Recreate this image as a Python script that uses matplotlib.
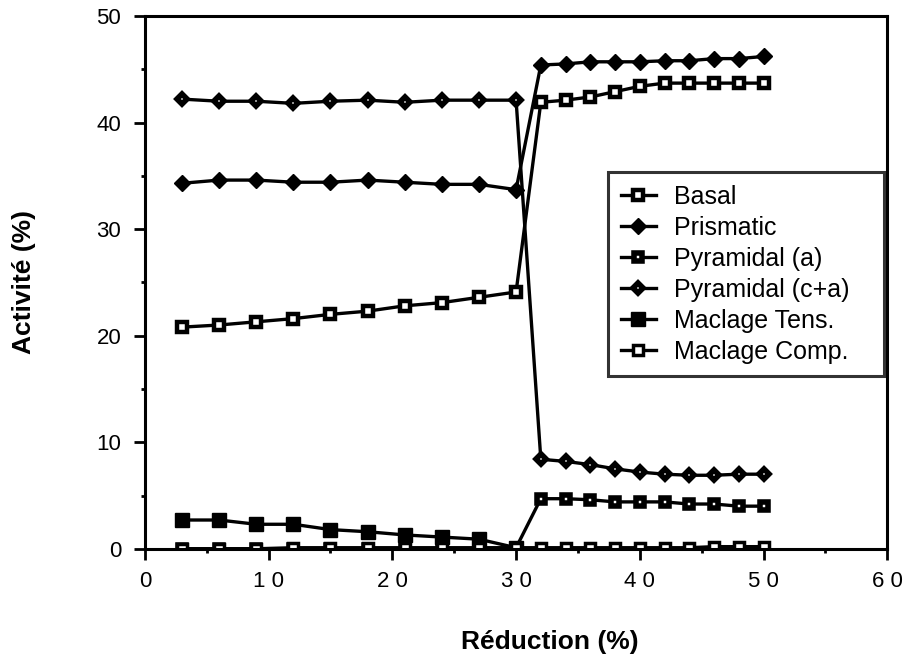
import matplotlib
matplotlib.use("Agg")
import matplotlib.pyplot as plt
import numpy as np

plt.rcParams['font.family'] = ['Liberation Sans', 'DejaVu Sans']

# Reduction (%) values
reduction = [3, 6, 9, 12, 15, 18, 21, 24, 27, 30,
             32, 34, 36, 38, 40, 42, 44, 46, 48, 50]

basal = [20.8, 21.0, 21.3, 21.6, 22.0, 22.3, 22.8, 23.1, 23.6, 24.1,
         41.9, 42.1, 42.4, 42.9, 43.4, 43.7, 43.7, 43.7, 43.7, 43.7]
prismatic = [34.3, 34.6, 34.6, 34.4, 34.4, 34.6, 34.4, 34.2, 34.2, 33.7,
             45.4, 45.5, 45.7, 45.7, 45.7, 45.8, 45.8, 46.0, 46.0, 46.2]
pyr_a = [0.0, 0.0, 0.0, 0.0, 0.0, 0.0, 0.0, 0.0, 0.0, 0.1,
         4.7, 4.7, 4.6, 4.4, 4.4, 4.4, 4.2, 4.2, 4.0, 4.0]
pyr_ca = [42.2, 42.0, 42.0, 41.8, 42.0, 42.1, 41.9, 42.1, 42.1, 42.1,
          8.4, 8.2, 7.9, 7.5, 7.2, 7.0, 6.9, 6.9, 7.0, 7.0]
# twinning (tension) only reported up to 30 %
reduction_tens = [3, 6, 9, 12, 15, 18, 21, 24, 27, 30]
tens = [2.7, 2.7, 2.3, 2.3, 1.8, 1.6, 1.3, 1.1, 0.9, 0.1]
comp = [0.0, 0.0, 0.0, 0.1, 0.1, 0.1, 0.1, 0.1, 0.1, 0.1,
        0.1, 0.1, 0.1, 0.1, 0.1, 0.1, 0.1, 0.2, 0.2, 0.2]

x_ticks = [0, 10, 20, 30, 40, 50, 60]
x_ticklabels = ['0', '1 0', '2 0', '3 0', '4 0', '5 0', '6 0']
y_ticks = [0, 10, 20, 30, 40, 50]

fig = plt.figure(figsize=(9.11, 6.66), dpi=100)
ax = fig.add_axes([0.159, 0.176, 0.815, 0.8])

lw = 2.4
common = dict(color='black', lw=lw, mec='black')
ax.plot(reduction_tens, tens, marker='s', ms=9.5, mew=1, mfc='black', label='Maclage Tens.', **common)
ax.plot(reduction, pyr_a, marker='s', ms=5.8, mew=4, mfc='white', label='Pyramidal (a)', **common)
ax.plot(reduction, comp, marker='s', ms=7.2, mew=2.5, mfc='white', label='Maclage Comp.', **common)
ax.plot(reduction, basal, marker='s', ms=6.6, mew=3.2, mfc='white', label='Basal', **common)
ax.plot(reduction, prismatic, marker='D', ms=8, mew=1, mfc='black', label='Prismatic', **common)
ax.plot(reduction, pyr_ca, marker='D', ms=4.8, mew=4, mfc='white', label='Pyramidal (c+a)', **common)

ax.set_xlim(0, 60)
ax.set_ylim(0, 50)
ax.set_xticks(x_ticks)
ax.set_xticklabels(x_ticklabels)
ax.set_xticks(np.arange(5, 60, 10), minor=True)
ax.set_yticks(y_ticks)
ax.set_yticks(np.arange(5, 50, 10), minor=True)

for s in ax.spines.values():
    s.set_linewidth(2.2)
ax.tick_params(which='major', direction='out', length=8, width=2, labelsize=16)
ax.tick_params(which='minor', direction='out', length=3, width=2)
ax.tick_params(axis='x', which='major', pad=8)
ax.tick_params(axis='y', which='major', pad=9)

ax.set_xlabel('Réduction (%)', fontsize=19, fontweight='bold')
ax.set_ylabel('Activité (%)', fontsize=19, fontweight='bold')
ax.xaxis.set_label_coords(0.546, -0.152)
ax.yaxis.set_label_coords(-0.146, 0.5)

handles, labels = ax.get_legend_handles_labels()
order = ['Basal', 'Prismatic', 'Pyramidal (a)', 'Pyramidal (c+a)', 'Maclage Tens.', 'Maclage Comp.']
hmap = dict(zip(labels, handles))
leg = ax.legend([hmap[k] for k in order], order, loc='upper left',
                bbox_to_anchor=(0.624, 0.3, 0.371, 0.407), mode='expand',
                borderaxespad=0, fontsize=18,
                frameon=True, fancybox=False, handlelength=1.4, handletextpad=0.75,
                labelspacing=0.28, borderpad=0.5)
leg.get_frame().set_edgecolor('black')
leg.get_frame().set_linewidth(2.2)

fig.savefig('out.png', dpi=100)
